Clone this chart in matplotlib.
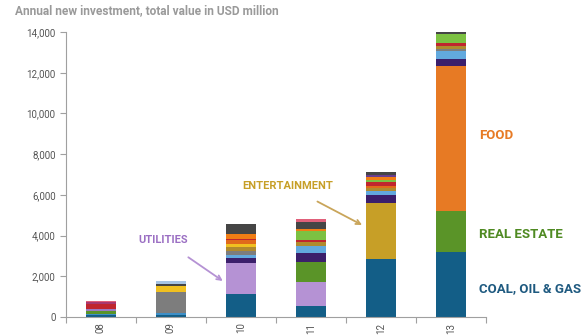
import numpy as np
import matplotlib.pyplot as plt

# years on the x axis
years = ["08", "09", "10", "11", "12", "13"]

# stacked sector values, USD million, bottom to top
coal_oil_gas = [100, 100, 1110, 540, 2830, 3180]
mining = [60, 100, 0, 0, 0, 0]
utilities = [0, 0, 1520, 1195, 0, 0]
real_estate = [150, 0, 0, 980, 0, 2020]
transport = [80, 0, 0, 0, 0, 0]
entertainment = [0, 0, 0, 0, 2750, 0]
food = [0, 0, 0, 0, 0, 7130]
chemicals = [0, 0, 280, 440, 410, 330]
telecom = [0, 0, 130, 345, 210, 410]
metals = [0, 1050, 210, 0, 0, 100]
autos = [0, 0, 200, 165, 115, 150]
building = [0, 250, 115, 0, 0, 0]
retail = [0, 0, 210, 0, 115, 0]
finance = [230, 0, 80, 115, 180, 160]
agriculture = [0, 0, 0, 460, 130, 410]
consumer = [0, 0, 200, 80, 130, 0]
health = [0, 0, 0, 0, 130, 0]
textiles = [100, 0, 0, 0, 0, 0]
other = [0, 130, 510, 360, 130, 130]
tourism = [80, 0, 0, 115, 0, 0]
software = [0, 130, 0, 0, 0, 0]

series = [
    (coal_oil_gas, "#135e87"), (mining, "#3e8fc7"), (utilities, "#b592d4"),
    (real_estate, "#5a9428"), (transport, "#9a7cc4"), (entertainment, "#c79f27"),
    (food, "#e77a24"), (chemicals, "#3b1f6b"), (telecom, "#62a9de"),
    (metals, "#7d7d7d"), (autos, "#b08a2e"), (building, "#f0c020"),
    (retail, "#e06a1b"), (finance, "#c0262e"), (agriculture, "#7cc142"),
    (consumer, "#f07d14"), (health, "#6a3d8f"), (textiles, "#a8386f"),
    (other, "#454545"), (tourism, "#e0607a"), (software, "#a6c4e4"),
]

plt.rcParams['font.family'] = ['Roboto', 'DejaVu Sans']

fig = plt.figure(figsize=(5.86, 3.35), dpi=100)
ax = fig.add_axes([0.1126, 0.0537, 0.7167, 0.8508])

x = np.arange(len(years))
bottom = np.zeros(len(years))
for vals, col in series:
    ax.bar(x, vals, width=0.43, bottom=bottom, color=col, linewidth=0)
    bottom += np.array(vals)

ax.set_xlim(-0.5, 5.5)
ax.set_ylim(0, 14000)
ax.set_yticks(range(0, 14001, 2000))
ax.set_yticklabels([f"{v:,}" for v in range(0, 14001, 2000)])
ax.set_xticks(x)
ax.set_xticklabels(years, rotation=90)
ax.set_xticks(np.arange(-0.5, 6, 1), minor=True)

for s in ["top", "right"]:
    ax.spines[s].set_visible(False)
for s in ["left", "bottom"]:
    ax.spines[s].set_color("#a0a0a0")
    ax.spines[s].set_linewidth(0.8)
ax.tick_params(axis="y", colors="#a0a0a0", labelcolor="#555555", labelsize=7, length=4, width=0.8)
ax.tick_params(axis="x", which="major", length=0, labelcolor="#555555", labelsize=7, pad=4)
ax.tick_params(axis="x", which="minor", length=4, width=0.8, colors="#a0a0a0")

fig.text(0.026, 0.988, "Annual new investment, total value in USD million",
         ha="left", va="top", fontsize=8.6, fontweight="bold", color="#9a9a9a")

ax.annotate("UTILITIES", xy=(1.74, 1770), xytext=(0.89, 3780),
            ha="center", va="center", fontsize=8, fontweight="bold", color="#9b6fc3",
            arrowprops=dict(arrowstyle="->", color="#b592d4", lw=1.3,
                            shrinkA=12, shrinkB=0))
ax.annotate("ENTERTAINMENT", xy=(3.73, 4520), xytext=(2.67, 6435),
            ha="center", va="center", fontsize=8, fontweight="bold", color="#c79f27",
            arrowprops=dict(arrowstyle="->", color="#c9a55a", lw=1.3,
                            shrinkA=12, shrinkB=0))

ax.text(5.4, 8940, "FOOD", ha="left", va="center", fontsize=9.5,
        fontweight="bold", color="#e77a24")
ax.text(5.4, 4030, "REAL ESTATE", ha="left", va="center", fontsize=9.5,
        fontweight="bold", color="#4f8a22")
ax.text(5.4, 1375, "COAL, OIL & GAS", ha="left", va="center", fontsize=9.5,
        fontweight="bold", color="#1f5a80")

fig.savefig("out.png", dpi=100)
